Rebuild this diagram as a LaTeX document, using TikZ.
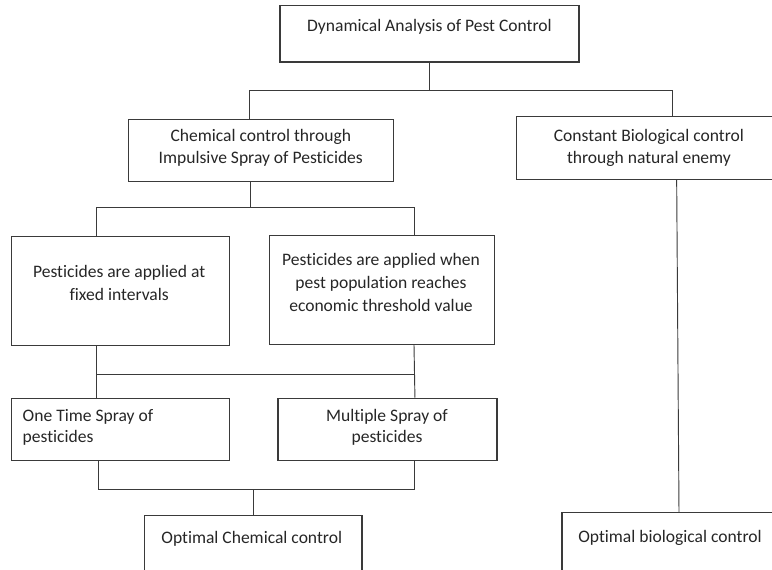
\documentclass[tikz,border=0pt]{standalone}
\usepackage{fontspec}
\setmainfont{Carlito}[Ligatures=NoCommon]
\usepackage{tikz}
\usetikzlibrary{positioning}
\definecolor{pestLine}{HTML}{3A3A3A}
\definecolor{pestText}{HTML}{262626}

\begin{document}
\begin{tikzpicture}[
    font=\fontsize{13.16pt}{16.3pt}\selectfont,
    box/.style={
      rectangle, draw=pestLine, line width=0.9pt, inner sep=0pt
    },
    caption/.style={inner sep=0pt, align=center, text=pestText},
    wideCaption/.style={caption, font=\fontsize{13.16pt}{17.3pt}\selectfont},
    edge/.style={draw=pestLine, line width=0.7pt}
  ]
  \useasboundingbox (0,0) rectangle (579pt,-426.75pt);
  \clip (0,0) rectangle (579pt,-426.75pt);

  % --- NIVEL 1: TEMA ---
  \node[box, minimum width=224.25pt, minimum height=42.5pt] (top) at (322.1pt,-25.25pt) {};
  \node[caption, anchor=base] (topText) at ([yshift=1.5pt]top.center) {Dynamical Analysis of Pest Control};

  % --- NIVEL 2: QUIMICO / BIOLOGICO ---
  \node[box, minimum width=198.8pt, minimum height=46.3pt, below=42.2pt of top, xshift=-126.5pt] (chem) {};
  \node[caption] (chemText) at ([yshift=1.85pt]chem.center) {Chemical control through\\Impulsive Spray of Pesticides};

  \node[box, minimum width=198.4pt, minimum height=47.5pt, below=39.75pt of top, xshift=164.6pt] (bio) {};
  \node[caption] (bioText) at (bio.center) {Constant Biological control\\through natural enemy};

  \draw[edge] (top.south) -- ++(0,-21pt) coordinate (split1);
  \draw[edge] ([xshift=-8.85pt]chem.north) |- (split1) -| ([xshift=17.55pt]bio.north);

  % --- NIVEL 3: CRITERIO DE APLICACION ---
  \node[box, minimum width=163.9pt, minimum height=81.75pt, below=40.5pt of chem, xshift=-105.3pt] (fixed) {};
  \node[wideCaption] (fixedText) at ([xshift=-0.9pt, yshift=6.2pt]fixed.center) {Pesticides are applied at\\fixed intervals};

  \node[box, minimum width=168.75pt, minimum height=81.5pt, below=40pt of chem, xshift=90.8pt] (threshold) {};
  \node[wideCaption] (thresholdText) at ([xshift=-0.65pt, yshift=6pt]threshold.center) {Pesticides are applied when\\pest population reaches\\economic threshold value};

  \draw[edge] ([xshift=-8pt]chem.south) -- ++(0,-19.5pt) coordinate (split2);
  \draw[edge] ([xshift=-18.3pt]fixed.north) |- (split2) -| ([xshift=24.3pt]threshold.north);

  % --- NIVEL 4: NUMERO DE ASPERSIONES ---
  \node[box, minimum width=163.5pt, minimum height=46.5pt, below=38.75pt of fixed] (onetime) {};
  \node[caption, align=left, anchor=west] (onetimeText) at ([xshift=8.75pt, yshift=1.4pt]onetime.west) {One Time Spray of\\pesticides};

  \node[box, minimum width=164.25pt, minimum height=46.5pt, below=39.5pt of threshold, xshift=4.2pt] (multiple) {};
  \node[caption] (multipleText) at ([xshift=-0.35pt, yshift=1.4pt]multiple.center) {Multiple Spray of\\pesticides};

  \draw[edge] ([xshift=-18pt]fixed.south) -- coordinate[pos=0.542] (barL) ([xshift=-18pt]onetime.north);
  \draw[edge] ([xshift=24.1pt]threshold.south) -- coordinate[pos=0.551] (barR) ([xshift=20.6pt]multiple.north);
  \draw[edge] (barL) -- (barL -| barR);

  % --- NIVEL 5: CONTROL OPTIMO ---
  \node[box, minimum width=163.3pt, minimum height=60pt, below=40.5pt of onetime, xshift=99.6pt] (optchem) {};
  \node[caption, anchor=base] (optchemText) at ([xshift=-1.1pt, yshift=-21.2pt]optchem.north) {Optimal Chemical control};

  \node[box, minimum width=162pt, minimum height=60pt, below=248.8pt of bio, xshift=15.8pt] (optbio) {};
  \node[caption, anchor=base] (optbioText) at ([yshift=-22.6pt]optbio.north) {Optimal biological control};

  \draw[edge] ([xshift=-16.5pt]onetime.south) -- ++(0,-21.25pt) coordinate (split3) -| ([xshift=19.9pt]multiple.south);
  \draw[edge] (optchem.north) -- (optchem.north |- split3);
  \draw[edge] ([xshift=20.8pt]bio.south) -- ([xshift=6.75pt]optbio.north);

\end{tikzpicture}
\end{document}
